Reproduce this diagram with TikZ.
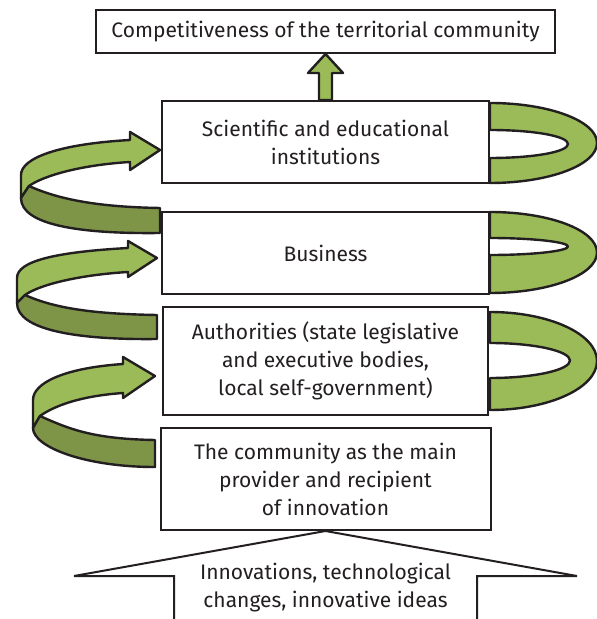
\documentclass[tikz,border=0pt]{standalone}
\usepackage{fontspec}
\setmainfont{Fira Sans}
\usetikzlibrary{calc}

\definecolor{bandlight}{HTML}{9BBB59}
\definecolor{banddark}{HTML}{7E9447}
\definecolor{ink}{HTML}{231F20}

\begin{document}
\begin{tikzpicture}[x=0.5pt,y=-0.5pt,
	box/.style={draw=ink, line width=1pt, fill=white, text=ink, align=center,
	            font=\fontsize{10.5}{14}\selectfont, inner sep=0pt},
	light/.style={draw=ink, line width=1.2pt, fill=bandlight, line join=round},
	dark/.style={draw=ink, line width=1.2pt, fill=banddark, line join=round}]

	\useasboundingbox (0,0) rectangle (597,619);

	% spirals on the left
	\draw[light] (21,175) .. controls (21,158) and (59,144) .. (130,140) -- (130,132) -- (160,150) -- (130,170) -- (130,162)
	             .. controls (80,165) and (43,176) .. (29,186) -- (21,198) -- cycle;
	\draw[dark] (29,186) .. controls (60,200) and (100,207) .. (160,208) -- (160,233)
	            .. controls (80,234) and (21,225) .. (21,198) -- cycle;

	\draw[light] (17,278) .. controls (17,261) and (56,252) .. (128,248) -- (128,241) -- (157,258) -- (128,277) -- (128,272)
	             .. controls (78,275) and (39,285) .. (25,295) -- (17,303) -- cycle;
	\draw[dark] (25,295) .. controls (56,309) and (97,314) .. (157,315) -- (157,339)
	            .. controls (77,340) and (17,330) .. (17,303) -- cycle;

	\draw[light] (33,400) .. controls (33,383) and (64,368) .. (123,364) -- (123,357) -- (155,376) -- (123,398) -- (123,393)
	             .. controls (80,396) and (54,406) .. (40,416) -- (33,428) -- cycle;
	\draw[dark] (40,416) .. controls (71,430) and (95,439) .. (155,440) -- (155,467)
	            .. controls (85,467) and (33,447) .. (33,428) -- cycle;

	% loops on the right
	\draw[light] (490,103) .. controls (549,103) and (597,121) .. (597,143) .. controls (597,165) and (549,183) .. (490,183)
	             -- (490,158) .. controls (533,158) and (568,152) .. (568,144) .. controls (568,136) and (533,130) .. (490,130) -- cycle;
	\draw[light] (490,212) .. controls (549,212) and (597,230) .. (597,252.5) .. controls (597,275) and (549,293) .. (490,293)
	             -- (490,255) .. controls (533,255) and (568,251) .. (568,246.5) .. controls (568,242) and (533,238) .. (490,238) -- cycle;
	\draw[light] (490,312) .. controls (549,312) and (597,334) .. (597,361) .. controls (597,388) and (549,410) .. (490,410)
	             -- (490,378) .. controls (534,378) and (570,370) .. (570,360.5) .. controls (570,351) and (534,343) .. (490,343) -- cycle;

	% boxes
	\node[box, minimum width=229.5pt, minimum height=21.5pt] (top) at (325.5,31.5) {Competitiveness of the territorial community};
	\node[box, minimum width=163.5pt, minimum height=41pt] (sci) at (325.5,142) {Scientific and educational\\institutions};
	\node[box, minimum width=163.5pt, minimum height=41pt] (bus) at (325.5,253) {Business};
	\node[box, minimum width=162.5pt, minimum height=54pt] (auth) at (325.5,361) {Authorities (state legislative\\and executive bodies,\\local self-government)};
	\node[box, minimum width=165pt, minimum height=51pt] (comm) at (325.5,479) {The community as the main\\provider and recipient\\of innovation};

	% arrow up to the top box
	\draw[light] ($(sci.north)+(-6.5,0)$) -- ++(0,-27) -- ++(-11,0) -- (top.south)
	             -- ($(sci.north)+(17.5,-27)$) -- ++(-11,0) -- ($(sci.north)+(6.5,0)$) -- cycle;

	% wide arrow at the bottom
	\draw[draw=ink, line width=1pt, fill=white] (174,619) -- (174,576) -- (74,576) -- (comm.south)
	      -- (577,576) -- (477,576) -- (477,619);
	\node[text=ink, align=center, font=\fontsize{10.5}{14}\selectfont] (innov) at (325.5,588) {Innovations, technological\\changes, innovative ideas};
\end{tikzpicture}
\end{document}
